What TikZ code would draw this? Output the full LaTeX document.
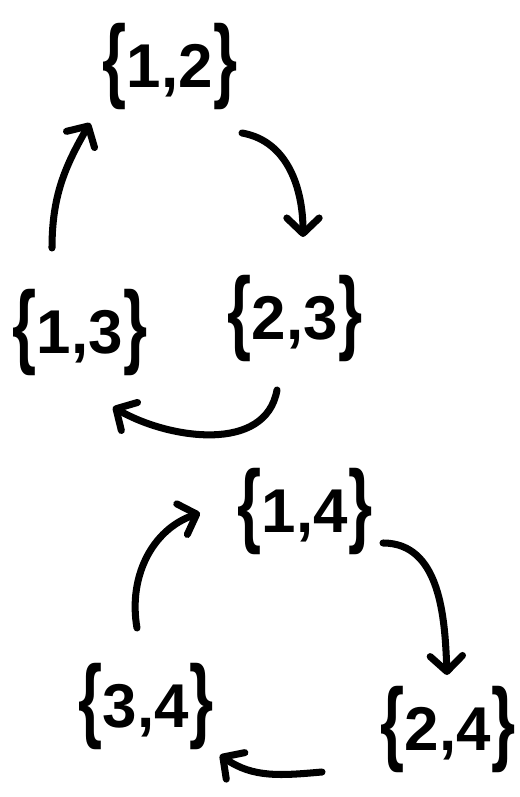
\documentclass[tikz,border=0pt]{standalone}
\usepackage{fontspec}
\setmainfont{Liberation Sans}
\usepackage{graphicx}
\usetikzlibrary{arrows.meta}
\newcommand{\tallbrace}[1]{\raisebox{-0.06em}{\scalebox{1}[1.5]{#1}}}
\newcommand{\pairset}[2]{\tallbrace{\{}#1,#2\tallbrace{\}}}
\tikzset{
  setnode/.style={inner sep=0pt,font=\fontsize{44}{50}\selectfont\bfseries},
  arrow/.style={-{Straight Barb[length=11pt,width=23pt,round]},line width=5pt,
                line cap=round,draw=black}
}

\begin{document}
\begin{tikzpicture}[x=0.025cm,y=0.025cm]
\useasboundingbox (0,0) rectangle (520,797);
\node[setnode] (n12) at (170,730) {\pairset{1}{2}};
\node[setnode] (n13) at (80,464) {\pairset{1}{3}};
\node[setnode] (n23) at (295,478) {\pairset{2}{3}};
\node[setnode] (n14) at (305,285) {\pairset{1}{4}};
\node[setnode] (n34) at (146,90) {\pairset{3}{4}};
\node[setnode] (n24) at (448,67) {\pairset{2}{4}};
\draw[arrow] ([shift={(72,-66)}]n12.center) to[out=-10,in=90] ([shift={(8,82)}]n23.center);
\draw[arrow] ([shift={(-18,-71)}]n23.center) to[out=-100,in=-30] ([shift={(33,-74)}]n13.center);
\draw[arrow] ([shift={(-28,85)}]n13.center) to[out=90,in=-120] ([shift={(-80,-56)}]n12.center);
\draw[arrow] ([shift={(78,-31)}]n14.center) to[out=0,in=92] ([shift={(-1,55)}]n24.center);
\draw[arrow] ([shift={(-126,-42)}]n24.center) to[out=185,in=-35] ([shift={(74,-48)}]n34.center);
\draw[arrow] ([shift={(-9,79)}]n34.center) to[out=100,in=-161] ([shift={(-105,-1)}]n14.center);
\end{tikzpicture}
\end{document}
